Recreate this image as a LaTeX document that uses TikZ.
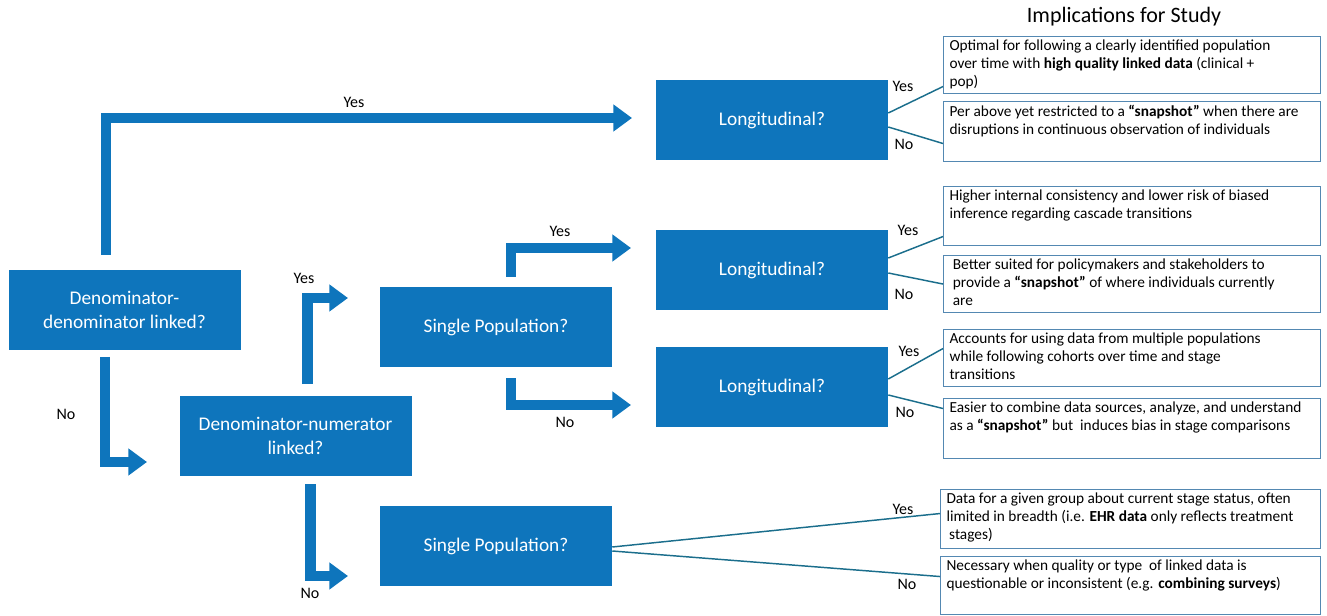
\documentclass[tikz,border=0pt]{standalone}
\usepackage{fontspec}
\setmainfont{Carlito}
\usetikzlibrary{arrows.meta,calc}
\definecolor{boxblue}{RGB}{14,117,188}
\definecolor{rborder}{RGB}{84,136,178}
\definecolor{thinline}{RGB}{27,110,140}
\newcommand{\boxtext}[3]{\parbox[c][#1][t]{#2}{#3}}
\begin{document}
\begin{tikzpicture}[x=0.75pt,y=-0.75pt,
  qbox/.style={fill=boxblue, draw=none, minimum width=174pt, minimum height=60pt,
    text=white, font=\fontsize{14.5}{17.5}\selectfont, align=center, inner sep=0pt},
  rbox/.style={draw=rborder, line width=0.8pt, anchor=north west, inner xsep=4.5pt,
    inner ysep=2.75pt, font=\fontsize{11.5}{13.2}\selectfont},
  bigarrow/.style={draw=boxblue, line width=8pt, -{Triangle[width=19.5pt,length=14pt]}},
  thinlink/.style={draw=thinline, line width=1.1pt},
  lab/.style={font=\fontsize{12}{14}\selectfont, inner sep=0pt},
  title/.style={font=\fontsize{16.5}{20}\selectfont, inner sep=0pt}
]
\useasboundingbox (0,0) rectangle (1327,616);

% decision boxes
\node[qbox] (d1) at (124.5,310) {Denominator-\\denominator linked?};
\node[qbox] (d2) at (295.5,436) {Denominator-numerator\\linked?};
\node[qbox] (sp1) at (496,327) {Single Population?};
\node[qbox] (sp2) at (496,546) {Single Population?};
\node[qbox] (l1) at (772,120) {Longitudinal?};
\node[qbox] (l2) at (772,270) {Longitudinal?};
\node[qbox] (l3) at (772,387) {Longitudinal?};

% title
\node[title] (ttl) at (1124,17) {Implications for Study};

% implication boxes
\node[rbox] (r1) at (943,36) {\boxtext{37.25pt}{274pt}{Optimal for following a clearly identified population\\over time with \textbf{high quality linked data} (clinical +\\pop)}};
\node[rbox] (r2) at (943,101) {\boxtext{39.5pt}{274pt}{Per above yet restricted to a \textbf{“snapshot”} when there are\\disruptions in continuous observation of individuals}};
\node[rbox] (r3) at (943,186) {\boxtext{38.75pt}{274pt}{Higher internal consistency and lower risk of biased\\inference regarding cascade transitions}};
\node[rbox] (r4) at (943,255) {\boxtext{37.25pt}{274pt}{\hspace*{2.5pt}Better suited for policymakers and stakeholders to\\\hspace*{2.5pt}provide a \textbf{“snapshot”} of where individuals currently\\\hspace*{2.5pt}are}};
\node[rbox] (r5) at (943,329) {\boxtext{37.25pt}{274pt}{Accounts for using data from multiple populations\\while following cohorts over time and stage\\transitions}};
\node[rbox] (r6) at (943,398) {\boxtext{39.5pt}{274pt}{Easier to combine data sources, analyze, and understand\\as a \textbf{“snapshot”} but\ \ induces bias in stage comparisons}};
\node[rbox] (r7) at (940,489) {\boxtext{38.75pt}{276pt}{Data for a given group about current stage status, often\\limited in breadth (i.e. \textbf{EHR data} only reflects treatment\\\hspace*{2pt}stages)}};
\node[rbox] (r8) at (940,556) {\boxtext{38pt}{276pt}{Necessary when quality or type\ \ of linked data is\\questionable or inconsistent (e.g. \textbf{combining surveys})}};

% thick arrows
\coordinate (a1s) at (106,255);   \coordinate (a1e) at (632,118);
\coordinate (a2s) at (105,357);   \coordinate (a2e) at (147,462);
\coordinate (a3s) at (307.5,384); \coordinate (a3e) at (348,298);
\coordinate (a4s) at (511,277);   \coordinate (a4e) at (631,248);
\coordinate (a5s) at (511,378);   \coordinate (a5e) at (631,405);
\coordinate (a6s) at (310.5,484); \coordinate (a6e) at (348,576);
\draw[bigarrow] (a1s) |- (a1e);
\draw[bigarrow] (a2s) |- (a2e);
\draw[bigarrow] (a3s) |- (a3e);
\draw[bigarrow] (a4s) |- (a4e);
\draw[bigarrow] (a5s) |- (a5e);
\draw[bigarrow] (a6s) |- (a6e);

% arrow labels
\node[lab] (y1) at (354,102) {Yes};
\node[lab] (y2) at (560,231) {Yes};
\node[lab] (y3) at (304,278) {Yes};
\node[lab] (n1) at (66,414) {No};
\node[lab] (n2) at (565,422) {No};
\node[lab] (n3) at (310,593) {No};

% thin links
\draw[thinlink] ($(l1.east)+(0,-7)$) -- ($(r1.west)+(0,21.5)$);
\draw[thinlink] ($(l1.east)+(0,7)$) -- ($(r2.west)+(0,12)$);
\draw[thinlink] ($(l2.east)+(0,-12)$) -- ($(r3.west)+(0,20.5)$);
\draw[thinlink] ($(l2.east)+(0,3)$) -- ($(r4.west)+(0,0)$);
\draw[thinlink] ($(l3.east)+(0,-8)$) -- ($(r5.west)+(0,-9.5)$);
\draw[thinlink] ($(l3.east)+(0,8)$) -- ($(r6.west)+(0,-20)$);
\draw[thinlink] ($(sp2.east)+(0,1)$) -- ($(r7.west)+(0,-5.5)$);
\draw[thinlink] ($(sp2.east)+(0,5)$) -- ($(r8.west)+(0,-9)$);

% link labels
\node[lab] (ly1) at (903,86) {Yes};
\node[lab] (ln1) at (904,144) {No};
\node[lab] (ly2) at (908,230) {Yes};
\node[lab] (ln2) at (904,294) {No};
\node[lab] (ly3) at (909,351) {Yes};
\node[lab] (ln3) at (905,412) {No};
\node[lab] (ly4) at (903,509) {Yes};
\node[lab] (ln4) at (907,584) {No};
\end{tikzpicture}
\end{document}
